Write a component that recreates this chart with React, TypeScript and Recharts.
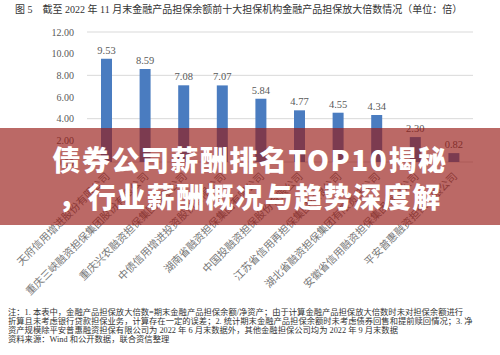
import React from "react";
import { BarChart, Bar, XAxis, YAxis, CartesianGrid, LabelList } from "recharts";

const categories = [
  "天府信用增进股份有限公司",
  "重庆三峡融资担保集团股份有限公司",
  "重庆兴农融资担保集团有限公司",
  "中债信用增进投资股份有限公司",
  "湖南省融资担保集团有限公司",
  "中国投融资担保股份有限公司",
  "江苏省信用再担保集团有限公司",
  "湖北省融资担保集团有限责任公司",
  "安徽省信用融资担保集团有限公司",
  "平安普惠融资担保有限公司",
];
const multiples = [9.53, 8.59, 7.08, 7.07, 5.84, 4.77, 4.55, 4.34, 2.3, 0.82];
const yTicks = [0, 2, 4, 6, 8, 10, 12];

const titleText =
  "图 5　截至 2022 年 11 月末金融产品担保余额前十大担保机构金融产品担保放大倍数情况（单位：倍）";
const noteLines = [
  "注：1. 本表中，金融产品担保放大倍数=期末金融产品担保余额/净资产；由于计算金融产品担保放大倍数时未对担保余额进行",
  "折算且未考虑银行贷款担保业务，计算存在一定的误差；2. 统计期末金融产品担保余额时未考虑债券回售和提前赎回情况；3. 净",
  "资产规模除平安普惠融资担保有限公司为 2022 年 6 月末数据外，其他金融担保公司均为 2022 年 9 月末数据",
  "资料来源：Wind 和公开数据，联合资信整理",
];
const bannerLines = ["债券公司薪酬排名TOP10揭秘", "，行业薪酬概况与趋势深度解"];

const data = categories.map((name, i) => ({ name, value: multiples[i] }));

const FONT = "'Liberation Serif', 'Noto Sans CJK SC', serif";

const XTick = (props: any) => {
  const { x, y, payload } = props;
  return (
    <g transform={`translate(${x},${y})`}>
      <text
        x={0}
        y={0}
        dx={-2}
        dy={8}
        textAnchor="end"
        transform="rotate(-45)"
        fill="#777"
        fontSize={10.5}
        fontFamily={FONT}
      >
        {payload.value}
      </text>
    </g>
  );
};

export default function App() {
  return (
    <div
      style={{
        position: "absolute",
        left: 0,
        top: 0,
        width: 500,
        height: 355,
        background: "#fff",
        overflow: "hidden",
        fontFamily: FONT,
      }}
    >
      <div
        style={{
          position: "absolute",
          left: 15,
          top: 3,
          fontSize: 10,
          lineHeight: "14px",
          color: "#333",
          whiteSpace: "nowrap",
        }}
      >
        {titleText}
      </div>
      <div style={{ position: "absolute", left: 0, top: 0 }}>
        <BarChart
          width={500}
          height={300}
          data={data}
          margin={{ top: 32, right: 27, left: 0, bottom: 0 }}
        >
          <CartesianGrid vertical={false} stroke="#d9d9d9" />
          <YAxis
            width={87}
            domain={[0, 12]}
            ticks={yTicks}
            tickFormatter={(v: number) => v.toFixed(2)}
            axisLine={false}
            tickLine={false}
            tickMargin={7}
            tick={{ fill: "#595959", fontSize: 10, fontFamily: FONT }}
          />
          <XAxis
            dataKey="name"
            height={138}
            interval={0}
            axisLine={false}
            tickLine={false}
            tick={<XTick />}
          />
          <Bar dataKey="value" fill="#4a7cc0" barSize={11} isAnimationActive={false}>
            <LabelList
              dataKey="value"
              position="top"
              offset={5}
              formatter={(v: number) => v.toFixed(2)}
              fill="#595959"
              fontSize={10.5}
              fontFamily={FONT}
            />
          </Bar>
        </BarChart>
      </div>
      <div
        style={{
          position: "absolute",
          left: 0,
          top: 128,
          width: 500,
          height: 97,
          background: "rgba(150, 25, 20, 0.65)",
          boxSizing: "border-box",
          paddingTop: 13,
          textAlign: "center",
          color: "#fff",
          fontFamily: "'Noto Sans CJK SC', sans-serif",
          fontWeight: 900,
          fontSize: 28,
          lineHeight: "37px",
          letterSpacing: 1.5,
          whiteSpace: "nowrap",
        }}
      >
        {bannerLines.map((l) => (
          <div key={l}>{l}</div>
        ))}
      </div>
      <div
        style={{
          position: "absolute",
          left: 8,
          top: 308,
          fontSize: 8.3,
          lineHeight: "9px",
          color: "#333",
          whiteSpace: "nowrap",
        }}
      >
        {noteLines.map((l) => (
          <div key={l}>{l}</div>
        ))}
      </div>
    </div>
  );
}
